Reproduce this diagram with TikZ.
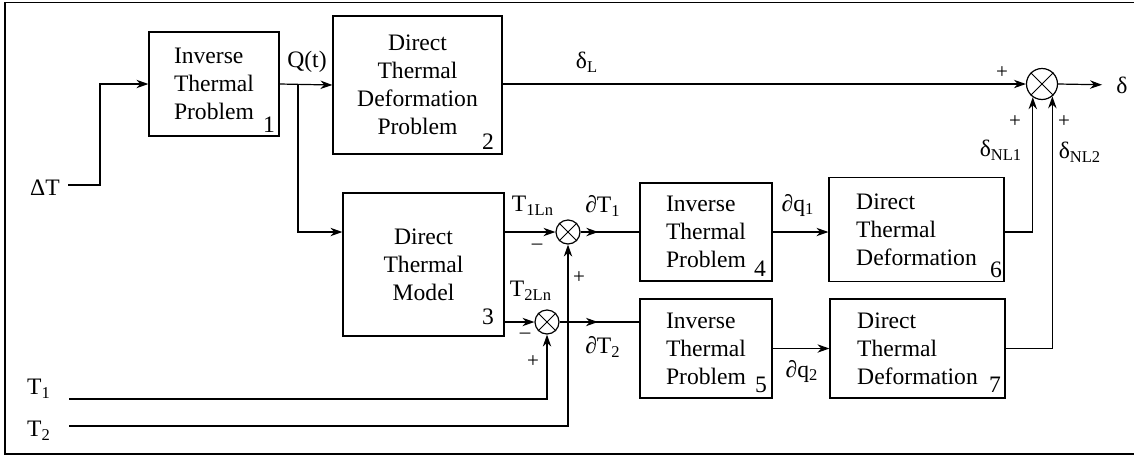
\documentclass[tikz,border=0pt]{standalone}
\usepackage{fontspec}
\setmainfont{Liberation Serif}
\usetikzlibrary{positioning, arrows.meta, decorations.markings}
\tikzset{
  blk/.style={draw, rectangle, line width=0.6pt, align=center, inner sep=0pt},
  blkl/.style={blk, align=left},
  sumnode/.style={draw, circle, line width=0.6pt, minimum size=12pt, inner sep=0pt},
  num/.style={inner sep=0pt},
  lbl/.style={inner sep=0pt},
  sig/.style={inner sep=0pt, font=\fontsize{10.5}{12}\selectfont},
  wire/.style={line width=0.6pt},
  arr/.style={wire, -{Stealth[length=6pt, width=4.2pt]}},
  midarr/.style={wire, decoration={markings, mark=at position #1 with {\arrow{Stealth[length=6pt, width=4.2pt]}}}, postaction={decorate}}
}

\begin{document}
\begin{tikzpicture}[x=0.5pt, y=-0.5pt, font=\fontsize{11.8}{14}\selectfont]
  \useasboundingbox (0,0) rectangle (1134,456);
  % frame
  \draw[line width=0.6pt] (1136,2.5) -- (5,2.5) -- (5,454) -- (1136,454);

  % Blocks
  \node[blkl, minimum width=65pt, minimum height=52pt] (b1) at (214,84) {Inverse\\Thermal\\Problem};
  \node[blk, minimum width=84.5pt, minimum height=69pt] (b2) at (417.5,85) {Direct\\Thermal\\Deformation\\Problem};
  \node[blk, minimum width=80.5pt, minimum height=71.5pt] (b3) at (423.5,264.5) {Direct\\Thermal\\Model};
  \node[blkl, minimum width=66pt, minimum height=49pt] (b4) at (706,232) {Inverse\\Thermal\\Problem};
  \node[blkl, minimum width=66pt, minimum height=49.5pt] (b5) at (706,348.5) {Inverse\\Thermal\\Problem};
  \node[blkl, minimum width=87.5pt, minimum height=52pt] (b6) at (916.5,229.5) {Direct\\Thermal\\Deformation};
  \node[blkl, minimum width=87.5pt, minimum height=49.5pt] (b7) at (917.5,348.5) {Direct\\Thermal\\Deformation};

  % Block numbers
  \node[num] (n1) at (269,125) {1};
  \node[num] (n2) at (488,142) {2};
  \node[num] (n3) at (488,317) {3};
  \node[num] (n4) at (760,269) {4};
  \node[num] (n5) at (761,385) {5};
  \node[num] (n6) at (996,270) {6};
  \node[num] (n7) at (995,385) {7};

  % Summing junctions
  \node[sumnode] (s1) at (568,232) {};
  \node[sumnode] (s2) at (547,322) {};
  \node[sumnode, minimum size=15.5pt] (s3) at (1042,84) {};
  \foreach \s in {s1,s2,s3}
    \draw[line width=0.5pt] (\s.north east) -- (\s.south west) (\s.north west) -- (\s.south east);

  % Signal labels
  \node[lbl] (dT) at (45,188) {ΔT};
  \node[lbl] (T1) at (39,389) {T\textsubscript{1}};
  \node[lbl] (T2) at (39,431) {T\textsubscript{2}};
  \node[lbl] (Qt) at (307,62) {Q(t)};
  \node[lbl] (dL) at (587,62) {δ\textsubscript{L}};
  \node[lbl] (T1Ln) at (533,206) {T\textsubscript{1Ln}};
  \node[lbl] (dT1) at (603,206) {∂T\textsubscript{1}};
  \node[lbl] (T2Ln) at (531,291) {T\textsubscript{2Ln}};
  \node[lbl] (dT2) at (603,347) {∂T\textsubscript{2}};
  \node[lbl] (dq1) at (798,205) {∂q\textsubscript{1}};
  \node[lbl] (dq2) at (802,371) {∂q\textsubscript{2}};
  \node[lbl] (dNL1) at (1001,150) {δ\textsubscript{NL1}};
  \node[lbl] (dNL2) at (1080,152) {δ\textsubscript{NL2}};
  \node[lbl] (dlt) at (1122,85) {δ};

  % Signs
  \node[sig] (m1) at (537,247) {–};
  \node[sig] (p1) at (579,278) {+};
  \node[sig] (m2) at (525,336) {–};
  \node[sig] (p2) at (533,362) {+};
  \node[sig] (p3) at (1002,73) {+};
  \node[sig] (p4) at (1015,122) {+};
  \node[sig] (p5) at (1064,122) {+};

  % Connectors
  \coordinate (dTin) at (68,185);
  \coordinate (qs) at (298,84);
  \coordinate (t1in) at (69,399);
  \coordinate (t2in) at (69,426);
  \draw[arr] (dTin) -- ++(32,0) |- (b1.west);
  \draw[arr] (b1.east) -- (b2.west);
  \draw[arr] (qs) |- (b3.west |- s1);
  \draw[arr] (b2.east |- s3) -- (s3.west);
  \draw[arr] (b3.east |- s1) -- (s1.west);
  \draw[arr] (b3.east |- s2) -- (s2.west);
  \draw[midarr=0.3] (s1.east) -- (b4.west);
  \draw[midarr=0.48] (s2.east) -- (s2.east -| b5.west);
  \draw[arr] (b4.east) -- (b4.east -| b6.west);
  \draw[arr] (b5.east) -- (b5.east -| b7.west);
  \draw[arr] (b6.east |- b4.east) -| (s3.-125);
  \draw[arr] (b7.east) -| (s3.-50);
  \draw[arr, shorten >=7pt] (s3.east) -- (dlt.west);
  \draw[arr] (t1in) -| (s2.south);
  \draw[arr] (t2in) -| (s1.south);
\end{tikzpicture}
\end{document}
